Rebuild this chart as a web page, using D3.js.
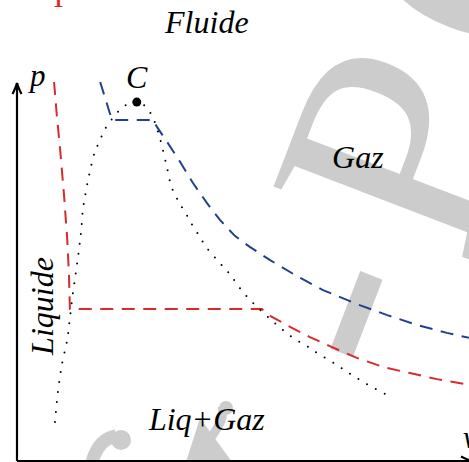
<!DOCTYPE html>
<html>
<head>
<meta charset="utf-8">
<script src="https://d3js.org/d3.v7.min.js"></script>
<style>
  body { margin: 0; background: #fff; }
  text { font-family: "Liberation Serif", "Times New Roman", serif; font-style: italic; }
</style>
</head>
<body>
<script>
// size of the page
var width = 469, height = 462;

// data (v and p in arbitrary units, 0..10)
var redV  = [0.82, 0.88, 0.95, 1.04, 1.11, 1.15, 1.17, 5.42, 5.60, 6.04, 6.48, 6.92, 7.52, 8.10, 8.69, 9.29, 10.0];
var redP  = [10.0, 9.13, 8.28, 7.02, 5.88, 4.91, 4.01, 4.01, 3.83, 3.54, 3.27, 3.03, 2.72, 2.48, 2.32, 2.16, 2.01];

var blueV = [1.84, 2.10, 3.01, 3.10, 3.32, 3.61, 3.89, 4.20, 4.49, 4.82, 5.15, 5.60, 6.19, 6.77, 7.52, 8.19, 8.85, 9.51, 10.0];
var blueP = [10.0, 9.00, 9.00, 8.81, 8.42, 7.89, 7.34, 6.81, 6.36, 5.94, 5.65, 5.30, 4.88, 4.51, 4.14, 3.85, 3.59, 3.38, 3.25];

var domeV = [0.84, 0.91, 1.00, 1.11, 1.17, 1.24, 1.31, 1.37, 1.42, 1.46, 1.53, 1.62, 1.73, 1.84, 1.92, 2.04, 2.19, 2.35, 2.50, 2.65,
             2.83, 2.99, 3.10, 3.19, 3.27, 3.34, 3.41, 3.52, 3.63, 3.74, 3.85, 3.98, 4.20, 4.49, 4.71, 4.93, 5.22, 5.55, 5.75,
             6.08, 6.44, 6.64, 7.04, 7.41, 7.77, 8.19];
var domeP = [1.03, 1.87, 2.59, 3.19, 3.77, 4.46, 5.04, 5.57, 6.09, 6.65, 7.15, 7.68, 8.18, 8.47, 8.71, 8.92, 9.16, 9.34, 9.45, 9.47,
             9.37, 9.10, 8.76, 8.39, 7.99, 7.63, 7.26, 6.97, 6.73, 6.52, 6.28, 6.04, 5.62, 5.22, 4.93, 4.56, 4.17, 3.80, 3.59,
             3.27, 3.01, 2.85, 2.56, 2.27, 2.01, 1.74];

var critical = [2.65, 9.47];

// labels: [text, v, p]
var labels = [
  ["Fluide", 4.20, 11.29],
  ["Gaz", 7.54, 7.73],
  ["Liq+Gaz", 4.20, 0.82],
  ["C", 2.41, 9.84]
];

var x = d3.scaleLinear().domain([0, 10]).range([17, 469]);
var y = d3.scaleLinear().domain([0, 10]).range([461, 82]);

var svg = d3.select("body").append("svg")
  .attr("width", width)
  .attr("height", height);

// grey watermark behind everything
var wm = svg.append("g").attr("fill", "#cccccc");
var wmText = wm.append("text")
  .attr("transform", "translate(418,395) rotate(-69)")
  .style("font-style", "normal")
  .style("font-size", "320px");
wmText.append("tspan").attr("dy", -11).text("-");
wmText.append("tspan").attr("dx", 27).attr("dy", 11).text("P");
wmText.append("tspan").attr("dx", 30).text("C");

wm.append("path")
  .attr("d", "M92,462 C96,448 104,438 116,436")
  .attr("fill", "none").attr("stroke", "#cccccc").attr("stroke-width", 13);
wm.append("circle").attr("cx", 121).attr("cy", 440).attr("r", 10);
wm.append("path").attr("d", "M186,462 L200,418 L232,462 Z");
wm.append("path")
  .attr("d", "M204,448 C214,432 226,420 222,406")
  .attr("fill", "none").attr("stroke", "#cccccc").attr("stroke-width", 9);
wm.append("circle").attr("cx", 226).attr("cy", 408).attr("r", 7);

var line = d3.line()
  .x(function(d) { return x(d[0]); })
  .y(function(d) { return y(d[1]); });

// red isotherm
svg.append("path")
  .datum(d3.zip(redV, redP))
  .attr("d", line)
  .attr("fill", "none")
  .attr("stroke", "#d62a2e")
  .attr("stroke-width", 2)
  .attr("stroke-dasharray", "13 8.5");

// blue (critical) isotherm
svg.append("path")
  .datum(d3.zip(blueV, blueP))
  .attr("d", line)
  .attr("fill", "none")
  .attr("stroke", "#22408f")
  .attr("stroke-width", 2)
  .attr("stroke-dasharray", "13 8.5");

// saturation dome, dotted
svg.append("path")
  .datum(d3.zip(domeV, domeP))
  .attr("d", line.curve(d3.curveCatmullRom))
  .attr("fill", "none")
  .attr("stroke", "#000")
  .attr("stroke-width", 2)
  .attr("stroke-linecap", "round")
  .attr("stroke-dasharray", "0 10");

// critical point
svg.append("circle")
  .attr("cx", x(critical[0]))
  .attr("cy", y(critical[1]))
  .attr("r", 4.5);

// axes with arrows
var axes = svg.append("g").attr("stroke", "#000").attr("stroke-width", 2.2).attr("fill", "none");
axes.append("line").attr("x1", x(0)).attr("y1", y(0)).attr("x2", x(0)).attr("y2", y(10) + 1);
axes.append("line").attr("x1", x(0)).attr("y1", y(0)).attr("x2", x(10) + 2).attr("y2", y(0));
axes.append("path")
  .attr("transform", "translate(" + x(0) + "," + (y(10) + 1) + ")")
  .attr("d", "M-4.5,11 Q-1,4 0,0 Q1,4 4.5,11");
axes.append("path")
  .attr("transform", "translate(" + (x(10) + 3) + "," + y(0) + ") rotate(90)")
  .attr("d", "M-4.5,11 Q-1,4 0,0 Q1,4 4.5,11");

// text
svg.selectAll(".lab")
  .data(labels)
  .enter().append("text")
  .attr("class", "lab")
  .attr("x", function(d) { return x(d[1]); })
  .attr("y", function(d) { return y(d[2]); })
  .attr("text-anchor", function(d) { return d[0] == "C" ? "start" : "middle"; })
  .style("font-size", "32px")
  .text(function(d) { return d[0]; });

svg.append("text")
  .attr("transform", "translate(53,306) rotate(-90)")
  .attr("text-anchor", "middle")
  .style("font-size", "32px")
  .text("Liquide");

svg.append("text").attr("x", 30).attr("y", 86).style("font-size", "31px").text("p");
svg.append("text").attr("x", 463).attr("y", 448).style("font-size", "31px").text("v");

// red mark cut by the top edge
svg.append("text")
  .attr("x", 58.5).attr("y", 7)
  .attr("text-anchor", "middle")
  .attr("fill", "#d62a2e")
  .style("font-style", "normal")
  .style("font-size", "30px")
  .text("I");
</script>
</body>
</html>
